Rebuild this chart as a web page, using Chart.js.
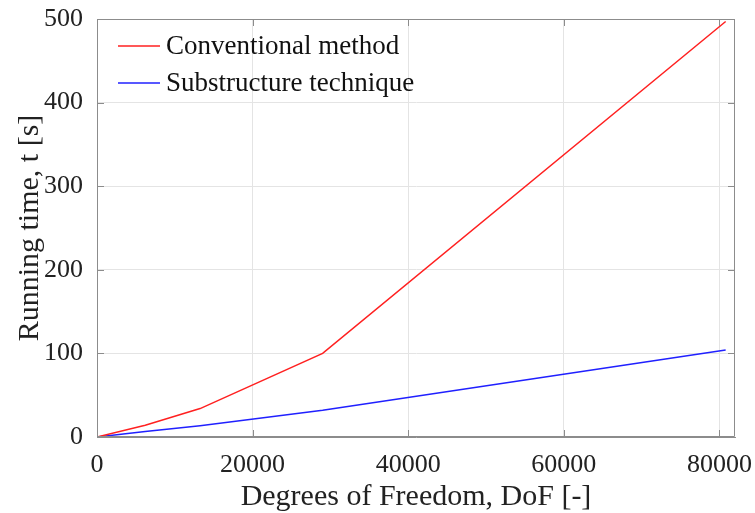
<!DOCTYPE html>
<html>
<head>
<meta charset="utf-8">
<script src="https://cdn.jsdelivr.net/npm/chart.js@4"></script>
<style>
  html, body { margin: 0; padding: 0; background: #ffffff; }
  #wrap { width: 755px; height: 513px; position: relative; }
</style>
</head>
<body>
<div id="wrap"><canvas id="c" width="755" height="513"></canvas></div>
<script>
// ---- data ----
const dof = [0, 6200, 13250, 29000, 80800];
const conventional = [0, 14, 34, 100, 497];
const substructure = [0, 6.5, 13.5, 32, 104];
const seriesLabels = ['Conventional method', 'Substructure technique'];
const seriesColors = ['#ff2020', '#2020ff'];
const xTitle = 'Degrees of Freedom, DoF [-]';
const yTitle = 'Running time, t [s]';
const xTicks = [0, 20000, 40000, 60000, 80000];
const yTicks = [0, 100, 200, 300, 400, 500];
const xMax = 82000, yMax = 500;

const FONT = '"Liberation Serif", "Times New Roman", serif';
const BOX = '#8c8c8c';

const boxPlugin = {
  id: 'boxPlugin',
  afterDraw(chart) {
    const ctx = chart.ctx;
    const a = chart.chartArea;
    const xs = chart.scales.x, ys = chart.scales.y;
    ctx.save();
    ctx.strokeStyle = BOX;
    ctx.lineWidth = 1;
    ctx.beginPath();
    ctx.rect(a.left + 0.5, a.top + 0.5, a.right - a.left - 1, a.bottom - a.top - 1);
    ctx.stroke();
    const tl = 7;
    ctx.beginPath();
    xs.ticks.forEach(t => {
      const px = Math.round(xs.getPixelForValue(t.value)) + 0.5;
      ctx.moveTo(px, a.bottom); ctx.lineTo(px, a.bottom - tl);
      ctx.moveTo(px, a.top); ctx.lineTo(px, a.top + tl);
    });
    ys.ticks.forEach(t => {
      const py = Math.round(ys.getPixelForValue(t.value)) + 0.5;
      ctx.moveTo(a.left, py); ctx.lineTo(a.left + tl, py);
      ctx.moveTo(a.right, py); ctx.lineTo(a.right - tl, py);
    });
    ctx.stroke();
    // legend inside plot, top-left
    ctx.font = '27px ' + FONT;
    ctx.textBaseline = 'middle';
    ctx.textAlign = 'left';
    chart.data.datasets.forEach((ds, i) => {
      const y = a.top + 27 + i * 37;
      ctx.strokeStyle = ds.borderColor;
      ctx.lineWidth = 1.5;
      ctx.beginPath();
      ctx.moveTo(a.left + 21, y); ctx.lineTo(a.left + 63, y);
      ctx.stroke();
      ctx.fillStyle = '#111111';
      ctx.fillText(ds.label, a.left + 69, y + 1);
    });
    ctx.restore();
  }
};

new Chart(document.getElementById('c'), {
  type: 'line',
  data: {
    datasets: [
      { label: seriesLabels[0], data: dof.map((x, i) => ({ x, y: conventional[i] })),
        borderColor: seriesColors[0], borderWidth: 1.5, pointRadius: 0, tension: 0, fill: false },
      { label: seriesLabels[1], data: dof.map((x, i) => ({ x, y: substructure[i] })),
        borderColor: seriesColors[1], borderWidth: 1.5, pointRadius: 0, tension: 0, fill: false }
    ]
  },
  options: {
    responsive: false,
    animation: false,
    devicePixelRatio: 1,
    layout: { padding: { top: 19, right: 20, left: 0, bottom: 0 } },
    plugins: { legend: { display: false }, tooltip: { enabled: false } },
    scales: {
      x: {
        type: 'linear', min: 0, max: xMax,
        afterBuildTicks(s) { s.ticks = xTicks.map(v => ({ value: v })); },
        afterFit(s) { s.height = 76; s.paddingLeft = 0; s.paddingRight = 0; },
        ticks: { padding: 13, color: '#222', maxRotation: 0, autoSkip: false,
                 font: { family: FONT, size: 26 }, callback: v => String(v) },
        grid: { color: '#e4e4e4', drawTicks: false },
        border: { display: true, color: BOX },
        title: { display: true, text: xTitle, color: '#222',
                 font: { family: FONT, size: 30, lineHeight: 1 }, padding: { top: 0, bottom: 1 } }
      },
      y: {
        type: 'linear', min: 0, max: yMax,
        afterBuildTicks(s) { s.ticks = yTicks.map(v => ({ value: v })); },
        afterFit(s) { s.width = 97; s.paddingTop = 0; s.paddingBottom = 0; },
        ticks: { padding: 14, color: '#222', autoSkip: false,
                 font: { family: FONT, size: 26 } },
        grid: { color: '#e4e4e4', drawTicks: false },
        border: { display: true, color: BOX },
        title: { display: true, text: yTitle, color: '#222',
                 font: { family: FONT, size: 30, lineHeight: 1 }, padding: { top: 15, bottom: 0 } }
      }
    }
  },
  plugins: [boxPlugin]
});
</script>
</body>
</html>
